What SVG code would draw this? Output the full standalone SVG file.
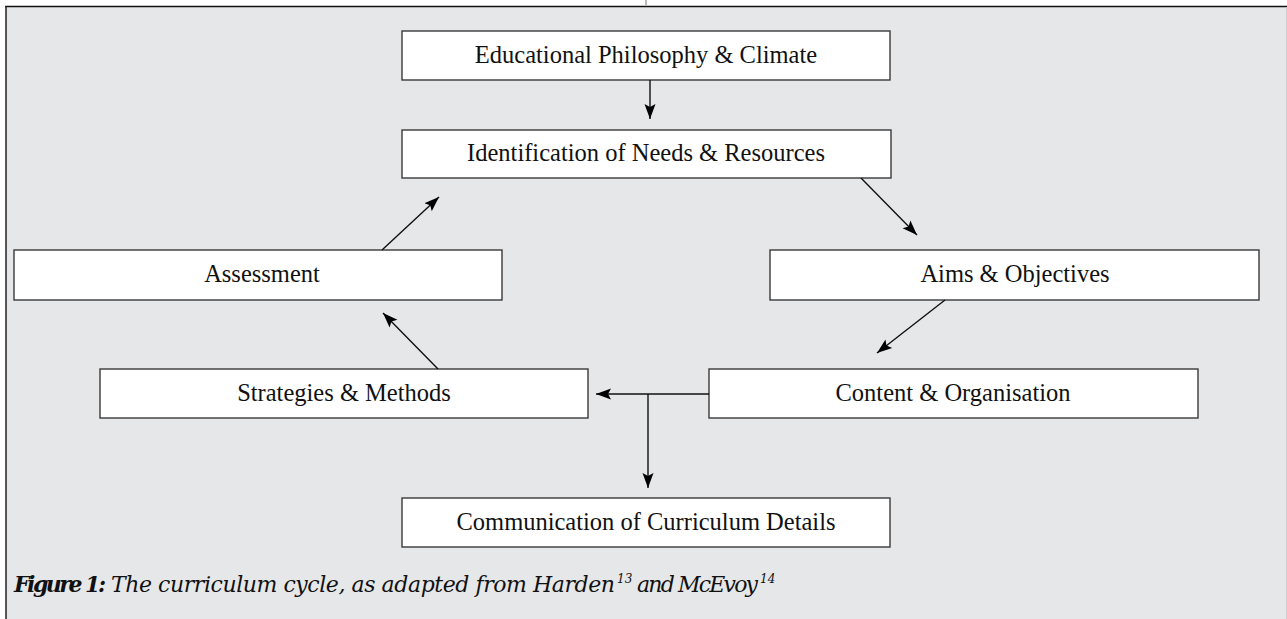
<svg xmlns="http://www.w3.org/2000/svg" width="1287" height="619" viewBox="0 0 1287 619">
<style>
.frame{fill:#e6e7e9;}
.box{fill:#ffffff;stroke:#3a3a3a;stroke-width:1.4;}
.lbl{font-family:"Liberation Serif","Times New Roman",serif;font-size:24.5px;fill:#111111;text-anchor:middle;}
.conn{stroke:#111111;stroke-width:1.4;fill:none;}
.cap{font-family:"DejaVu Serif","Liberation Serif",serif;font-size:22px;font-style:italic;fill:#111111;}
.sup{font-family:"DejaVu Serif","Liberation Serif",serif;font-size:12px;font-style:italic;fill:#111111;}
</style>
<defs>
<marker id="ah" markerUnits="userSpaceOnUse" markerWidth="16" markerHeight="12" viewBox="0 0 16 12" refX="15" refY="6" orient="auto">
<path d="M0,0.5 L15,6 L0,11.5 L3,6 Z" fill="#000000"/>
</marker>
</defs>
<rect class="frame" x="6" y="6" width="1281" height="613"/>
<line x1="5" y1="6.5" x2="1287" y2="6.5" stroke="#111111" stroke-width="1.6"/>
<line x1="6" y1="6" x2="6" y2="619" stroke="#222222" stroke-width="1.5"/>
<line x1="1286.5" y1="7" x2="1286.5" y2="619" stroke="#cfd0d2" stroke-width="1"/>
<line x1="646" y1="0" x2="646" y2="6" stroke="#bbbbbb" stroke-width="2"/>

<g id="n-philosophy"><rect class="box" x="402" y="31" width="488" height="49"/><text class="lbl" x="646" y="62.5">Educational Philosophy &amp; Climate</text></g>
<g id="n-needs"><rect class="box" x="402" y="130" width="489" height="48"/><text class="lbl" x="646" y="161">Identification of Needs &amp; Resources</text></g>
<g id="n-assessment"><rect class="box" x="14" y="250" width="488" height="50"/><text class="lbl" x="262" y="282">Assessment</text></g>
<g id="n-aims"><rect class="box" x="770" y="250" width="489" height="50"/><text class="lbl" x="1015" y="282">Aims &amp; Objectives</text></g>
<g id="n-strategies"><rect class="box" x="100" y="369" width="488" height="49"/><text class="lbl" x="344" y="400.5">Strategies &amp; Methods</text></g>
<g id="n-content"><rect class="box" x="709" y="369" width="489" height="49"/><text class="lbl" x="953" y="400.5">Content &amp; Organisation</text></g>
<g id="n-communication"><rect class="box" x="402" y="498" width="488" height="49"/><text class="lbl" x="646" y="529.5">Communication of Curriculum Details</text></g>

<g id="connectors">
<line class="conn" x1="650" y1="80" x2="650" y2="119" marker-end="url(#ah)"/>
<line class="conn" x1="861" y1="178" x2="917" y2="235" marker-end="url(#ah)"/>
<line class="conn" x1="945" y1="300" x2="877" y2="353" marker-end="url(#ah)"/>
<line class="conn" x1="709" y1="394" x2="596" y2="394" marker-end="url(#ah)"/>
<line class="conn" x1="648" y1="394" x2="648" y2="488" marker-end="url(#ah)"/>
<line class="conn" x1="438" y1="369" x2="383" y2="313" marker-end="url(#ah)"/>
<line class="conn" x1="382" y1="250" x2="439" y2="197" marker-end="url(#ah)"/>
</g>

<g id="caption">
<text class="cap" x="14" y="592" font-size="20" font-weight="bold" textLength="92" lengthAdjust="spacing">Figure 1:</text>
<text class="cap" x="111" y="592" textLength="504" lengthAdjust="spacing">The curriculum cycle, as adapted from Harden</text>
<text class="sup" x="617" y="583">13</text>
<text class="cap" x="637" y="592" textLength="121" lengthAdjust="spacing">and McEvoy</text>
<text class="sup" x="760" y="583">14</text>
</g>
</svg>
